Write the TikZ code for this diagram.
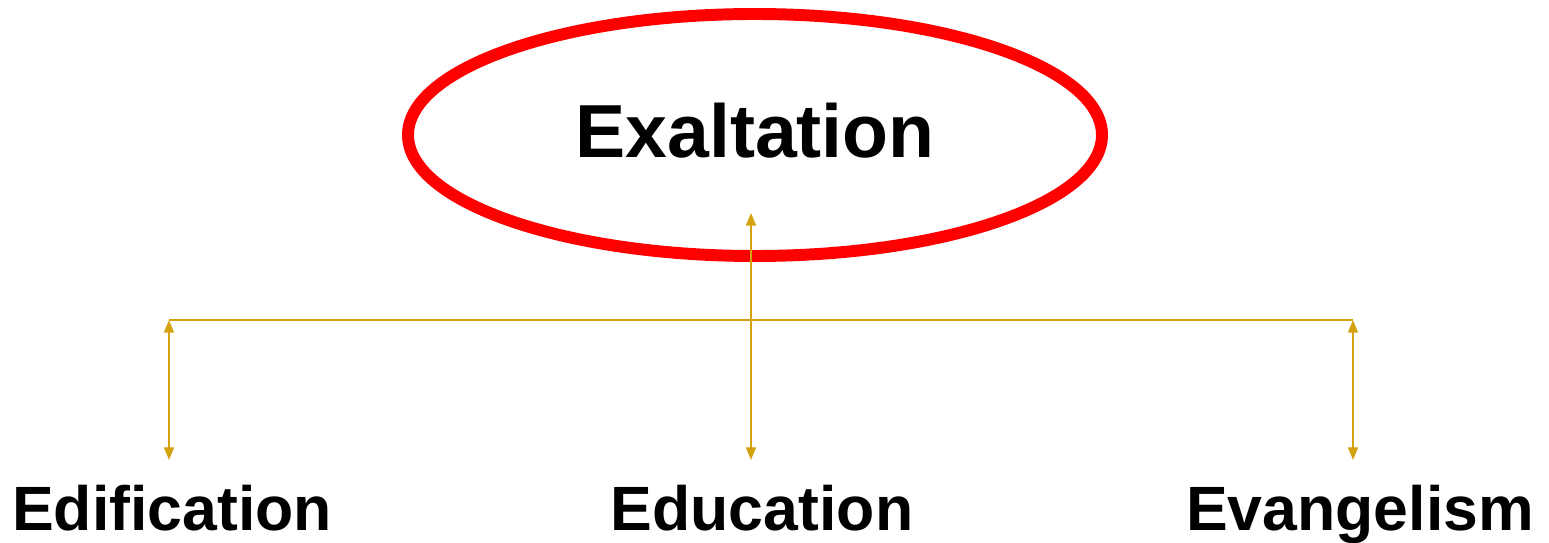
\documentclass[tikz,border=0pt]{standalone}
\usepackage{fontspec}
\setmainfont{Liberation Sans}
\usepackage{xcolor}
\usetikzlibrary{arrows.meta,positioning,shapes.geometric}
\definecolor{ringred}{HTML}{FF0000}
\definecolor{linkgold}{HTML}{D4A20F}

\begin{document}
\begin{tikzpicture}[
  >={Triangle[length=3.6pt,width=2.8pt]},
  ring/.style={ellipse, draw=ringred, line width=3.4pt, minimum width=6.94cm, minimum height=2.42cm, inner sep=0pt, text depth=0.09cm, font=\fontsize{21.4}{25}\selectfont\bfseries},
  label/.style={inner sep=0pt, text height=0.7cm, anchor=north, font=\fontsize{17.8}{21}\selectfont\bfseries},
  link/.style={draw=linkgold, line width=0.6pt}
]
  \useasboundingbox (0,0) rectangle (15.49,-5.43);
  \node[ring] (exalt) at (7.55,-1.35) {Exaltation};
  \node[label] (edif) at (1.72,-4.60) {Edification};
  \node[label] (educ) at (7.62,-4.60) {Education};
  \node[label] (evan) at (13.60,-4.60) {Evangelism};
  \coordinate (apex) at (7.51,-2.13);
  \coordinate (jl) at (1.69,-3.20);
  \coordinate (jr) at (13.53,-3.20);
  \draw[link] (jl) -- (jr);
  \draw[link, <->] (educ.north -| apex) -- (apex);
  \draw[link, <->] (edif.north -| jl) -- (jl);
  \draw[link, <->] (evan.north -| jr) -- (jr);
\end{tikzpicture}
\end{document}
